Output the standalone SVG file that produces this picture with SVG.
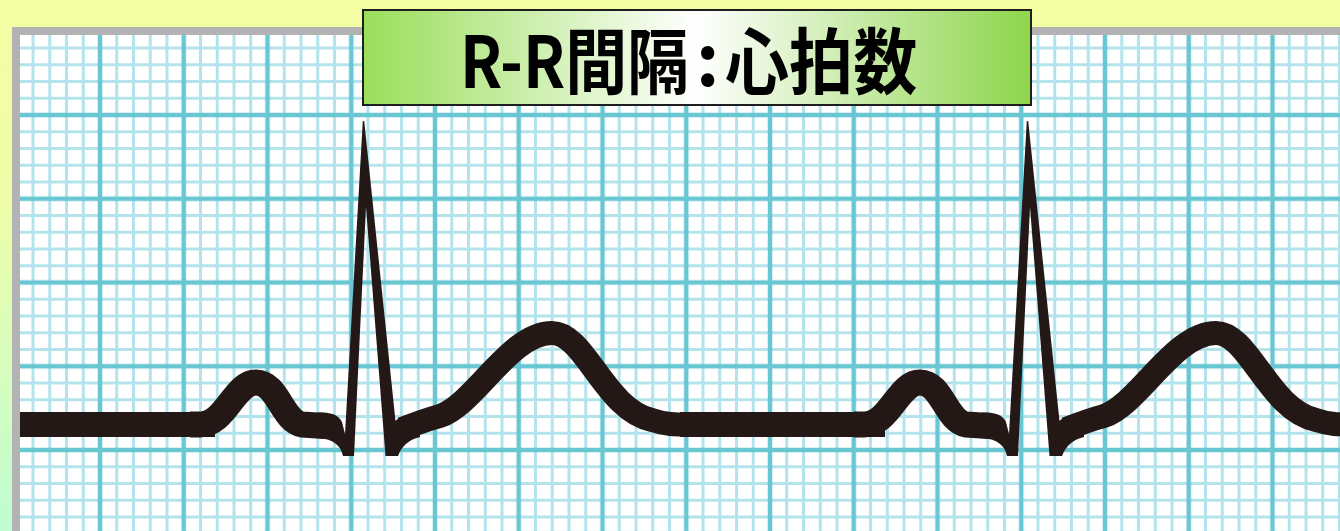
<svg xmlns="http://www.w3.org/2000/svg" width="1340" height="531" viewBox="0 0 1340 531">
<defs>
<linearGradient id="bg" x1="0" y1="0" x2="0" y2="1">
<stop offset="0" stop-color="#f4fda2"/>
<stop offset="0.35" stop-color="#f0fda6"/>
<stop offset="1" stop-color="#bffdd2"/>
</linearGradient>
<linearGradient id="titleGrad" x1="0" y1="0" x2="1" y2="0">
<stop offset="0" stop-color="#9ade5a"/>
<stop offset="0.5" stop-color="#ffffff"/>
<stop offset="1" stop-color="#8ed64c"/>
</linearGradient>
<pattern id="minor" patternUnits="userSpaceOnUse" x="7.875" y="22.875" width="16.75" height="16.75">
<rect width="16.75" height="16.75" fill="#ffffff"/>
<path d="M8.375 0V16.75M0 8.375H16.75" stroke="#b3e3eb" stroke-width="3" fill="none"/>
</pattern>
<pattern id="major" patternUnits="userSpaceOnUse" x="-25.625" y="-10.625" width="83.75" height="83.75">
<path d="M41.875 0V83.75M0 41.875H83.75" stroke="#69c7d3" stroke-width="4.5" fill="none"/>
</pattern>
<g id="beat">
<path class="wave" stroke-width="26" d="M190 424.5L200 424.5C226 424.5 234 382.5 256 382.5C278 382.5 282 421 302 424.5L325 426"/>
<path class="qrs" d="M318 412.5C331 412.5 338 414 342 422L345 434L362.8 121L364.2 121L395.5 421C399 417 407 414 420 412L420 437C408 440 402 446 398 456L385.5 456L366 207L354 456L343 456C341 446 334 439 318 438Z"/>
<path class="wave" stroke-width="24" d="M402 429C415 424 425 420 440 416C475 404 510 333 552 333C585 333 605 410 652 420C665 424.5 675 424.5 690 424.5"/>
</g>
</defs>
<style>
.wave{fill:none;stroke:#231815;stroke-linecap:butt;stroke-linejoin:round}
.qrs{fill:#231815;stroke:none}
.title{font-family:"Noto Sans CJK JP","Noto Sans CJK SC",sans-serif;font-weight:bold;font-size:72px;fill:#000000}
</style>
<rect x="0" y="0" width="1340" height="531" fill="url(#bg)"/>
<g id="paper">
<rect x="12" y="27" width="1328" height="504" fill="#b3b3b3"/>
<rect x="20" y="35" width="1320" height="496" fill="url(#minor)"/>
<rect x="20" y="35" width="1320" height="496" fill="url(#major)"/>
</g>
<g id="ecg">
<path class="wave" stroke-width="25" d="M20 424.5H215M680 424.5H885"/>
<use href="#beat"/>
<use href="#beat" transform="translate(664 0)"/>
</g>
<g id="title">
<rect x="363" y="10" width="668" height="95" fill="url(#titleGrad)" stroke="#1e1e1e" stroke-width="2"/>
<g transform="translate(460 0) scale(0.86 1)"><text class="title" x="0" y="88">R-R間隔</text></g>
<text class="title" x="696" y="86">:</text>
<g transform="translate(725 0) scale(0.89 1)"><text class="title" x="0" y="88">心拍数</text></g>
</g>
</svg>
